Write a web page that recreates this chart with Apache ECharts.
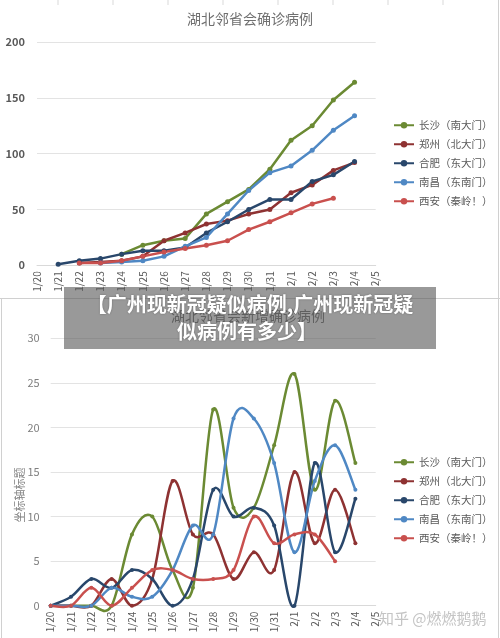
<!DOCTYPE html>
<html><head><meta charset="utf-8">
<script src="https://cdn.jsdelivr.net/npm/echarts@6/dist/echarts.min.js"></script>
<style>html,body{margin:0;padding:0;background:#fff;}#c{width:500px;height:638px;}</style>
</head><body><div id="c"></div>
<script>
var categories = ['1/20','1/21','1/22','1/23','1/24','1/25','1/26','1/27','1/28','1/29','1/30','1/31','2/1','2/2','2/3','2/4','2/5'];
var seriesNames = ['长沙（南大门）','郑州（北大门）','合肥（东大门）','南昌（东南门）','西安（秦岭！）'];
// cumulative confirmed (top chart)
var changshaTotal = [null,null,null,null,10,18,22,24,46,57,68,86,112,125,148,164,null];
var zhengzhouTotal = [null,null,2,3,4,8,22,29,37,40,46,50,65,72,85,92,null];
var hefeiTotal = [null,1,4,6,10,13,13,16,29,39,50,59,59,75,81,93,null];
var nanchangTotal = [null,null,null,2,3,4,8,17,25,46,67,83,89,103,121,134,null];
var xianTotal = [null,null,2,2,4,8,12,15,18,22,32,39,47,55,60,null,null];
// daily new (bottom chart)
var changshaNew = [0,0,0,0,8,10,4,2,22,11,11,18,26,13,23,16,null];
var zhengzhouNew = [0,0,0,3,0,3,14,8,8,3,6,4,15,7,13,7,null];
var hefeiNew = [0,1,3,2,4,3,0,3,13,10,11,9,0,16,6,12,null];
var nanchangNew = [0,0,0,2,1,1,4,9,8,21,21,16,6,14,18,13,null];
var xianNew = [0,0,2,0,2,4,4,3,3,4,10,7,8,8,5,null,null];
var topTitle = '湖北邻省会确诊病例';
var bottomTitle = '湖北邻省会新增确诊病例';
var bottomYAxisTitle = '坐标轴标题';
var bannerLine1 = '【广州现新冠疑似病例,广州现新冠疑';
var bannerLine2 = '似病例有多少】';
var watermark = '知乎 @燃燃鹅鹅';

var colors = ['#6b8a33','#8e3232','#29476b','#4f88c4','#c9504e'];
var FONT = '"Noto Sans CJK SC","Noto Sans",sans-serif';
var totals = [changshaTotal, zhengzhouTotal, hefeiTotal, nanchangTotal, xianTotal];
var news = [changshaNew, zhengzhouNew, hefeiNew, nanchangNew, xianNew];

var series = [];
totals.forEach(function(d,i){
  series.push({name:seriesNames[i], type:'line', xAxisIndex:0, yAxisIndex:0, data:d,
    symbol:'circle', symbolSize:5, lineStyle:{width:2.5, color:colors[i]}, itemStyle:{color:colors[i]},
    connectNulls:false, animation:false});
});
// bottom: markers via line series, smooth curve (Excel-like Catmull-Rom) via custom series
news.forEach(function(d,i){
  series.push({name:seriesNames[i], type:'line', xAxisIndex:1, yAxisIndex:1, data:d,
    symbol:'circle', symbolSize:4, lineStyle:{width:0, opacity:0}, itemStyle:{color:colors[i]},
    z:3, animation:false});
});
news.forEach(function(d,i){
  series.push({name:seriesNames[i], type:'custom', xAxisIndex:1, yAxisIndex:1, data:[[0,0]],
    z:2, animation:false, silent:true,
    renderItem:function(params, api){
      var pts = [];
      d.forEach(function(v,k){ if(v!==null && v!==undefined) pts.push(api.coord([k, v])); });
      if (pts.length < 2) return null;
      var p = 'M' + pts[0][0] + ' ' + pts[0][1];
      for (var k=0; k<pts.length-1; k++){
        var p0 = pts[k-1] || pts[k], p1 = pts[k], p2 = pts[k+1], p3 = pts[k+2] || pts[k+1];
        var c1x = p1[0] + (p2[0]-p0[0])/6, c1y = p1[1] + (p2[1]-p0[1])/6;
        var c2x = p2[0] - (p3[0]-p1[0])/6, c2y = p2[1] - (p3[1]-p1[1])/6;
        p += ' C' + c1x + ' ' + c1y + ' ' + c2x + ' ' + c2y + ' ' + p2[0] + ' ' + p2[1];
      }
      return {type:'path', shape:{pathData:p}, style:{fill:'none', stroke:colors[i], lineWidth:2.5}};
    }});
});

function xAx(gi, col){
  return {type:'category', gridIndex:gi, data:categories, boundaryGap:false,
    axisLine:{lineStyle:{color:'#d9d9d9'}}, axisTick:{show:false},
    axisLabel:{rotate:90, interval:0, fontSize:10, color:col, margin:6, fontFamily:FONT}};
}
var legendBase = {orient:'vertical', left:388, itemWidth:20, itemHeight:8, itemGap:8.5,
  textStyle:{fontSize:10.5, color:'#595959', fontFamily:FONT}, data:seriesNames};

var topTicks = [];
var tickXs = [58,113,168,223,278,333,388,443];
tickXs.forEach(function(x){ topTicks.push({type:'line', shape:{x1:x,y1:0,x2:x,y2:5}, style:{stroke:'#d9d9d9',lineWidth:1}, silent:true}); });

var option = {
  backgroundColor:'#fff',
  animation:false,
  textStyle:{fontFamily:FONT},
  grid:[{left:37, top:42, width:338.7, height:223.3},{left:50.7, top:338.3, width:325, height:267.4}],
  xAxis:[xAx(0,'#595959'), xAx(1,'#595959')],
  yAxis:[
    {type:'value', gridIndex:0, min:0, max:200, interval:50, axisLine:{show:false}, axisTick:{show:false},
     splitLine:{lineStyle:{color:'#e3e3e3'}}, axisLabel:{fontSize:11, fontWeight:'bold', color:'#595959', margin:12}},
    {type:'value', gridIndex:1, min:0, max:30, interval:5, axisLine:{show:false}, axisTick:{show:false},
     splitLine:{lineStyle:{color:'#e3e3e3'}}, axisLabel:{fontSize:11, color:'#7f7f7f', margin:11}}
  ],
  legend:[
    Object.assign({}, legendBase, {top:115}),
    Object.assign({}, legendBase, {top:452})
  ],
  series:series,
  graphic:[
    {type:'text', left:'center', top:12, style:{text:topTitle, fill:'#6f6f6f', font:'14px '+FONT}, z:5},
    {type:'text', x:248, y:316, style:{text:bottomTitle, fill:'#6f6f6f', font:'14px '+FONT, textAlign:'center', textVerticalAlign:'middle'}, z:5},
    {type:'text', x:20, y:495, rotation:Math.PI/2, style:{text:bottomYAxisTitle, fill:'#7f7f7f', font:'11px '+FONT, textAlign:'center', textVerticalAlign:'middle'}, z:5},
    {type:'rect', shape:{x:0,y:291,width:500,height:7}, style:{fill:'#ffffff'}, z:50},
    {type:'line', shape:{x1:0,y1:298.5,x2:500,y2:298.5}, style:{stroke:'#d0d0d0',lineWidth:1}, z:51},
    {type:'line', shape:{x1:1.5,y1:298,x2:1.5,y2:638}, style:{stroke:'#d0d0d0',lineWidth:1}, z:51},
    {type:'line', shape:{x1:498.5,y1:0,x2:498.5,y2:638}, style:{stroke:'#d0d0d0',lineWidth:1}, z:51}
  ].concat(topTicks).concat([
    {type:'text', x:379, y:618, style:{text:watermark, fill:'#c4c4c4', font:'15px '+FONT, textVerticalAlign:'middle'}, z:60},
    {type:'rect', shape:{x:64,y:287,width:372,height:62}, style:{fill:'rgba(85,85,85,0.6)'}, z:100},
    {type:'text', x:250, y:304, style:{text:bannerLine1, fill:'#ffffff', font:'bold 20px '+FONT, textAlign:'center', textVerticalAlign:'middle', textShadowColor:'rgba(0,0,0,0.35)', textShadowBlur:2}, z:101},
    {type:'text', x:247, y:331, style:{text:bannerLine2, fill:'#ffffff', font:'bold 20px '+FONT, textAlign:'center', textVerticalAlign:'middle', textShadowColor:'rgba(0,0,0,0.35)', textShadowBlur:2}, z:101}
  ])
};
var chart = echarts.init(document.getElementById('c'), null, {renderer:'canvas'});
chart.setOption(option);
</script>
</body></html>
